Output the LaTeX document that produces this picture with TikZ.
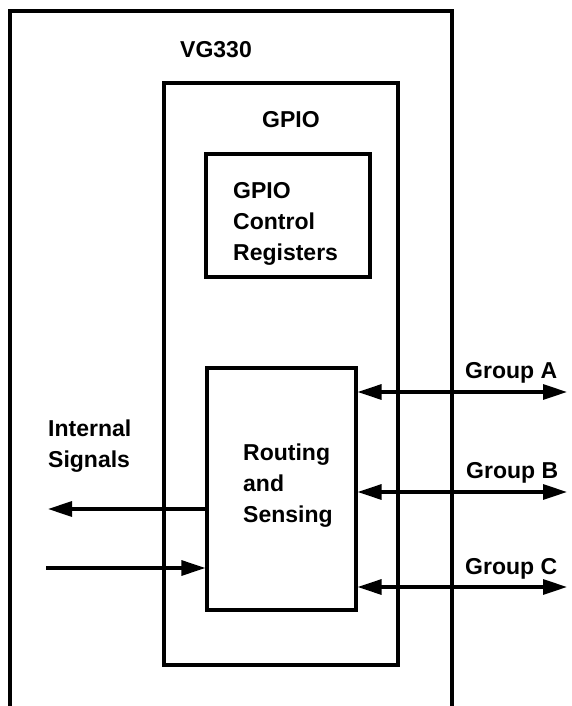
\documentclass[tikz,border=0pt]{standalone}
\usepackage{fontspec}
\setmainfont{Liberation Sans}
\usepackage{tikz}
\usetikzlibrary{arrows.meta,positioning,calc}
\tikzset{
  box/.style   = {draw, line width=3.2pt, rectangle, inner sep=0pt},
  lbl/.style   = {inner sep=0pt, align=left,
                  font=\bfseries\fontsize{23}{31}\selectfont},
  sig/.style   = {-{Triangle[length=24pt,width=15pt]}, line width=3.2pt},
  bisig/.style = {{Triangle[length=24pt,width=15pt]}-{Triangle[length=24pt,width=15pt]},
                  line width=3.2pt},
}
\begin{document}
\begin{tikzpicture}[x=1pt,y=-1pt]
\useasboundingbox (0,0) rectangle (571,706);
% chip outline, open at the bottom
\draw[line width=3.2pt] (10,706) |- (452,11) -- (452,706);
\node[lbl,anchor=base west] (chip) at (180,58) {VG330};
% GPIO block
\node[box,minimum width=234pt,minimum height=582pt] (gpio) at (281,374) {};
\node[lbl,anchor=base west] (gpiot) at (262,128) {GPIO};
\node[box,minimum width=164pt,minimum height=123pt] (regs) at (288,215.5) {};
\node[lbl,anchor=north west] (regst) at (233,182) {GPIO\\Control\\Registers};
\node[box,minimum width=149pt,minimum height=242pt] (route) at (281.5,489) {};
\node[lbl,anchor=north west] (routet) at (243,444) {Routing\\and\\Sensing};
% pin groups
\coordinate (ga) at (567,392);
\coordinate (gb) at (567,492);
\coordinate (gc) at (567,587);
\draw[bisig] (route.east |- ga) -- (ga);
\draw[bisig] (route.east |- gb) -- (gb);
\draw[bisig] (route.east |- gc) -- (gc);
\node[lbl,anchor=base west] (gat) at (465,378) {Group A};
\node[lbl,anchor=base west] (gbt) at (466,478) {Group B};
\node[lbl,anchor=base west] (gct) at (465,574) {Group C};
% internal signals
\coordinate (io) at (48,509);
\coordinate (ii) at (46,568);
\draw[sig] (route.west |- io) -- (io);
\draw[sig] (ii) -- (route.west |- ii);
\node[lbl,anchor=north west] (intt) at (48,420) {Internal\\Signals};
\end{tikzpicture}
\end{document}
